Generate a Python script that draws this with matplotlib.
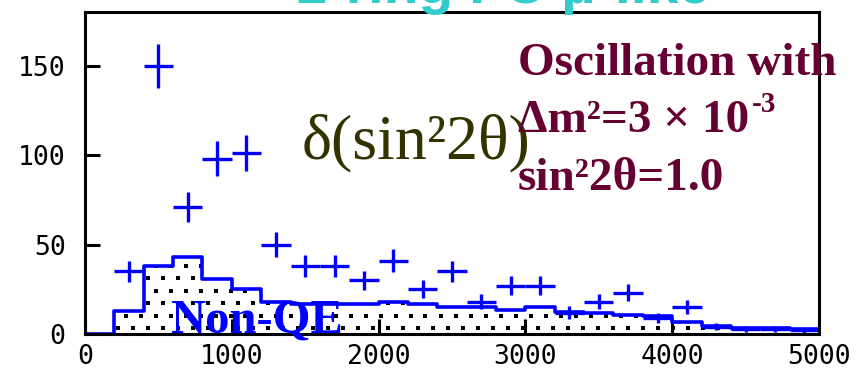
import numpy as np
import matplotlib.pyplot as plt

# MC expectation histogram (200 MeV bins)
bin_edges = list(range(0, 5200, 200))
mc_counts = [0, 13, 38, 43, 31, 25, 18, 17, 17, 17, 18, 17, 15, 15, 13.5,
             15, 12.5, 11.7, 10.5, 10, 6.7, 4.5, 3.3, 3.3, 3]

# data points (bin centres)
data_x = [300, 500, 700, 900, 1100, 1300, 1500, 1700, 1900, 2100, 2300, 2500,
          2700, 2900, 3100, 3300, 3500, 3700, 3900, 4100, 4300, 4500, 4700, 4900]
data_y = [35, 150, 71, 98, 101, 50, 38, 38, 30, 41, 25, 35,
          18, 27, 27, 12, 18, 23, 9, 15, 4, 3, 3, 2]

x_ticks = [0, 1000, 2000, 3000, 4000, 5000]
y_ticks = [0, 50, 100, 150]

fig = plt.figure(figsize=(8.56, 3.69), dpi=100)
ax = fig.add_axes([85/856, 35/369, 734/856, 322/369])
ax.set_xlim(0, 5000)
ax.set_ylim(0, 180)

edges = np.array(bin_edges)
counts = np.array(mc_counts)
step_y = np.append(counts, counts[-1])

# non-QE area, filled with a staggered dot pattern
area = ax.fill_between(edges, 0, step_y, step='post', facecolor='white',
                       linewidth=0)
px = 5000 / 734.0   # data units per pixel in x
py = 180 / 322.0
gx, gy = [], []
for r, yy in enumerate(np.arange(py * 6, 50, py * 12.5)):
    off = (r % 2) * 7.5 * px
    for xx in np.arange(off + 3 * px, 5000, 15 * px):
        gx.append(xx)
        gy.append(yy)
dots = ax.scatter(gx, gy, s=6, marker='s', color='black', linewidths=0)
dots.set_clip_path(area.get_paths()[0], ax.transData)

ax.step(edges, step_y, where='post', color='#0000ff', lw=2.6)

yerr = np.sqrt(data_y)
ax.errorbar(data_x, data_y, xerr=100, yerr=yerr, fmt='none',
            ecolor='#0000ff', elinewidth=2.4, capsize=0)

ax.set_xticks(x_ticks)
ax.set_yticks(y_ticks)
ax.tick_params(direction='in', length=11, width=2.2, top=False, right=False,
               labelsize=19)
ax.tick_params(axis='y', pad=14)
ax.tick_params(axis='x', pad=7)
for lab in ax.get_xticklabels() + ax.get_yticklabels():
    lab.set_family('DejaVu Sans Mono')
for s in ax.spines.values():
    s.set_linewidth(2.2)

# annotations
fig.text(710/856, 1 - 3/369, '1-ring FC μ-like', color='#33cccc',
         fontsize=41, fontweight='bold', family='Liberation Sans',
         ha='right', va='baseline')
fam = ['Liberation Serif', 'DejaVu Serif']
fig.text(302/856, 1 - 158/369, 'δ(sin²2θ)', color='#333300', fontsize=46,
         family=fam, va='baseline')
purple = '#660033'
fig.text(518/856, 1 - 75/369, 'Oscillation with', color=purple, fontsize=34,
         fontweight='bold', family=fam, va='baseline')
fig.text(518/856, 1 - 132/369, 'Δm²=3 × 10', color=purple, fontsize=34,
         fontweight='bold', family=fam, va='baseline')
fig.text(752/856, 1 - 112/369, '-3', color=purple, fontsize=21,
         fontweight='bold', family=fam, va='baseline')
fig.text(518/856, 1 - 190/369, 'sin²2θ=1.0', color=purple, fontsize=34,
         fontweight='bold', family=fam, va='baseline')
fig.text(170/856, 1 - 333/369, 'Non-QE', color='#0000ff', fontsize=35,
         fontweight='bold', family=fam, va='baseline')

fig.savefig('out.png', dpi=100)
